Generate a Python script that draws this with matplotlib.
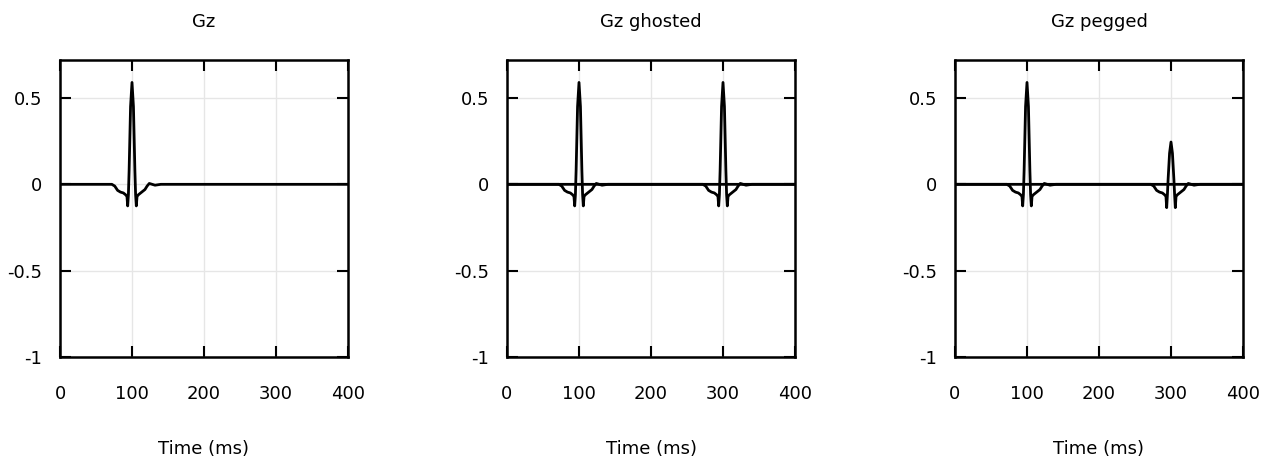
import numpy as np
import matplotlib.pyplot as plt

# pulse around 100 ms (same shape used for the ghost at 300 ms)
pulse_t = [0, 72, 76, 80, 84, 88, 91, 93, 94, 95, 96, 98, 100, 102, 104, 105, 106, 107, 109,
           112, 115, 118, 121, 124, 128, 132, 140, 400]
pulse_v = [0, 0, -0.01, -0.035, -0.045, -0.05, -0.06, -0.07, -0.125, -0.06, 0.08, 0.45, 0.59,
           0.45, 0.08, -0.06, -0.125, -0.07, -0.06, -0.05, -0.04, -0.03, -0.01, 0.005, 0.0,
           -0.005, 0, 0]

ghost_t = [0, 272, 276, 280, 284, 288, 291, 293, 294, 295, 296, 298, 300, 302, 304, 305, 306,
           307, 309, 312, 315, 318, 321, 324, 328, 332, 340, 400]
ghost_v = pulse_v

peg_t = ghost_t
peg_v = [0, 0, -0.01, -0.035, -0.045, -0.05, -0.06, -0.07, -0.135, -0.06, 0.03, 0.18, 0.245,
         0.18, 0.03, -0.06, -0.135, -0.07, -0.06, -0.05, -0.04, -0.03, -0.01, 0.005, 0.0,
         -0.005, 0, 0]

titles = ['Gz', 'Gz ghosted', 'Gz pegged']
xticks = [0, 100, 200, 300, 400]
yticks = [-1, -0.5, 0, 0.5]
ytick_labels = ['-1', '-0.5', '0', '0.5']

plt.rcParams['font.family'] = 'DejaVu Sans'
fig = plt.figure(figsize=(12.73, 4.61), dpi=100)

lefts = [60, 507, 955]
axes = [fig.add_axes([l / 1273, 1 - 357 / 461, 288 / 1273, 297 / 461]) for l in lefts]

# first pulse in every panel, second pulse in ghosted / pegged
axes[0].plot(pulse_t, pulse_v, color='black', lw=2)
axes[1].plot(pulse_t, pulse_v, color='black', lw=2)
axes[1].plot(ghost_t, ghost_v, color='black', lw=2)
axes[2].plot(pulse_t, pulse_v, color='black', lw=2)
axes[2].plot(peg_t, peg_v, color='black', lw=2)

for ax, title in zip(axes, titles):
    ax.set_xlim(0, 400)
    ax.set_ylim(-1, 0.72)
    ax.set_xticks(xticks)
    ax.set_yticks(yticks)
    ax.set_yticklabels(ytick_labels)
    ax.tick_params(direction='in', length=8, width=1.5, top=True, right=True,
                   labelsize=13, color='black')
    ax.tick_params(axis='x', pad=20.5)
    ax.tick_params(axis='y', pad=13)
    ax.grid(True, color='#e6e6e6', lw=1)
    for s in ax.spines.values():
        s.set_linewidth(1.8)
    ax.set_title(title, fontsize=13, pad=24)
    ax.set_xlabel('Time (ms)', fontsize=13, labelpad=26)

plt.savefig('out.png', dpi=100)
